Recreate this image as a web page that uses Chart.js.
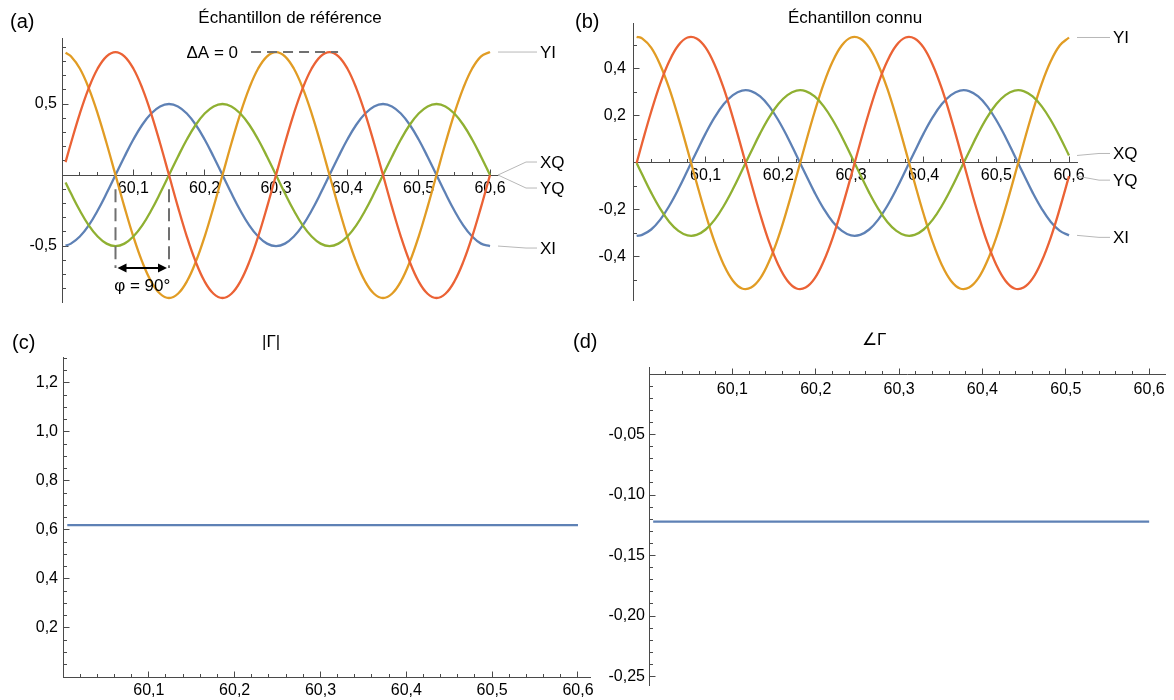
<!DOCTYPE html>
<html>
<head>
<meta charset="utf-8">
<script src="https://cdn.jsdelivr.net/npm/chart.js@4.4.1/dist/chart.umd.min.js"></script>
<style>
html,body{margin:0;padding:0;background:#fff;}
#wrap{position:relative;width:1174px;height:700px;overflow:hidden;background:#fff;font-family:'Liberation Sans',Arial,Helvetica,sans-serif;color:#000;}
canvas{position:absolute;}
.t{position:absolute;line-height:1;white-space:nowrap;}
</style>
</head>
<body>
<div id="wrap">
  <canvas id="ca" width="580" height="320" style="left:0;top:0;width:580px;height:320px"></canvas>
  <canvas id="cb" width="594" height="320" style="left:580px;top:0;width:594px;height:320px"></canvas>
  <canvas id="cc" width="600" height="380" style="left:0;top:320px;width:600px;height:380px"></canvas>
  <canvas id="cd" width="594" height="380" style="left:580px;top:320px;width:594px;height:380px"></canvas>

  <div class="t" style="left:10px;top:10.6px;font-size:20px">(a)</div>
  <div class="t" style="left:290px;top:8.6px;font-size:17px;transform:translateX(-50%)">Échantillon de référence</div>
  <div class="t" style="left:575px;top:10.6px;font-size:20px">(b)</div>
  <div class="t" style="left:855px;top:8.6px;font-size:17px;transform:translateX(-50%)">Échantillon connu</div>
  <div class="t" style="left:12px;top:332px;font-size:20px">(c)</div>
  <div class="t" style="left:262px;top:332.6px;font-size:17px">|Γ|</div>
  <div class="t" style="left:573px;top:331px;font-size:20px">(d)</div>
  <div class="t" style="left:862px;top:330.6px;font-size:17px">∠Γ</div>
</div>
<script>
// ---------------- data ----------------
const xVals = [60.005, 60.0125, 60.025, 60.0375, 60.05, 60.0625, 60.075, 60.0875, 60.1, 60.1125,
  60.125, 60.1375, 60.15, 60.1625, 60.175, 60.1875, 60.2, 60.2125, 60.225, 60.2375,
  60.25, 60.2625, 60.275, 60.2875, 60.3, 60.3125, 60.325, 60.3375, 60.35, 60.3625,
  60.375, 60.3875, 60.4, 60.4125, 60.425, 60.4375, 60.45, 60.4625, 60.475, 60.4875,
  60.5, 60.5125, 60.525, 60.5375, 60.55, 60.5625, 60.575, 60.5875, 60.6];

// (a) reference sample
const refYI = [0.861, 0.836, 0.750, 0.612, 0.433, 0.224, 0, -0.224, -0.433, -0.612, -0.750, -0.836, -0.866,
  -0.836, -0.750, -0.612, -0.433, -0.224, 0, 0.224, 0.433, 0.612, 0.750, 0.836, 0.866,
  0.836, 0.750, 0.612, 0.433, 0.224, 0, -0.224, -0.433, -0.612, -0.750, -0.836, -0.866,
  -0.836, -0.750, -0.612, -0.433, -0.224, 0, 0.224, 0.433, 0.612, 0.750, 0.836, 0.866];
const refYQ = [0.091, 0.224, 0.433, 0.612, 0.750, 0.836, 0.866, 0.836, 0.750, 0.612, 0.433, 0.224, 0,
  -0.224, -0.433, -0.612, -0.750, -0.836, -0.866, -0.836, -0.750, -0.612, -0.433, -0.224, 0,
  0.224, 0.433, 0.612, 0.750, 0.836, 0.866, 0.836, 0.750, 0.612, 0.433, 0.224, 0,
  -0.224, -0.433, -0.612, -0.750, -0.836, -0.866, -0.836, -0.750, -0.612, -0.433, -0.224, 0];
const refXI = [-0.497, -0.483, -0.433, -0.354, -0.250, -0.129, 0, 0.129, 0.250, 0.354, 0.433, 0.483, 0.500,
  0.483, 0.433, 0.354, 0.250, 0.129, 0, -0.129, -0.250, -0.354, -0.433, -0.483, -0.500,
  -0.483, -0.433, -0.354, -0.250, -0.129, 0, 0.129, 0.250, 0.354, 0.433, 0.483, 0.500,
  0.483, 0.433, 0.354, 0.250, 0.129, 0, -0.129, -0.250, -0.354, -0.433, -0.483, -0.500];
const refXQ = [-0.052, -0.129, -0.250, -0.354, -0.433, -0.483, -0.500, -0.483, -0.433, -0.354, -0.250, -0.129, 0,
  0.129, 0.250, 0.354, 0.433, 0.483, 0.500, 0.483, 0.433, 0.354, 0.250, 0.129, 0,
  -0.129, -0.250, -0.354, -0.433, -0.483, -0.500, -0.483, -0.433, -0.354, -0.250, -0.129, 0,
  0.129, 0.250, 0.354, 0.433, 0.483, 0.500, 0.483, 0.433, 0.354, 0.250, 0.129, 0];

// (b) known sample
const knownYI = [0.537, 0.530, 0.491, 0.417, 0.316, 0.192, 0.056, -0.084, -0.218, -0.338, -0.434, -0.501, -0.534,
  -0.530, -0.491, -0.417, -0.316, -0.192, -0.056, 0.084, 0.218, 0.338, 0.434, 0.501, 0.534,
  0.530, 0.491, 0.417, 0.316, 0.192, 0.056, -0.084, -0.218, -0.338, -0.434, -0.501, -0.534,
  -0.530, -0.491, -0.417, -0.316, -0.192, -0.056, 0.084, 0.218, 0.338, 0.434, 0.501, 0.534];
const knownYQ = [0, 0.084, 0.218, 0.338, 0.434, 0.501, 0.534, 0.530, 0.491, 0.417, 0.316, 0.192, 0.056,
  -0.084, -0.218, -0.338, -0.434, -0.501, -0.534, -0.530, -0.491, -0.417, -0.316, -0.192, -0.056,
  0.084, 0.218, 0.338, 0.434, 0.501, 0.534, 0.530, 0.491, 0.417, 0.316, 0.192, 0.056,
  -0.084, -0.218, -0.338, -0.434, -0.501, -0.534, -0.530, -0.491, -0.417, -0.316, -0.192, -0.056];
const knownXI = [-0.310, -0.306, -0.283, -0.241, -0.182, -0.111, -0.032, 0.048, 0.126, 0.195, 0.251, 0.289, 0.308,
  0.306, 0.283, 0.241, 0.182, 0.111, 0.032, -0.048, -0.126, -0.195, -0.251, -0.289, -0.308,
  -0.306, -0.283, -0.241, -0.182, -0.111, -0.032, 0.048, 0.126, 0.195, 0.251, 0.289, 0.308,
  0.306, 0.283, 0.241, 0.182, 0.111, 0.032, -0.048, -0.126, -0.195, -0.251, -0.289, -0.308];
const knownXQ = [0, -0.048, -0.126, -0.195, -0.251, -0.289, -0.308, -0.306, -0.283, -0.241, -0.182, -0.111, -0.032,
  0.048, 0.126, 0.195, 0.251, 0.289, 0.308, 0.306, 0.283, 0.241, 0.182, 0.111, 0.032,
  -0.048, -0.126, -0.195, -0.251, -0.289, -0.308, -0.306, -0.283, -0.241, -0.182, -0.111, -0.032,
  0.048, 0.126, 0.195, 0.251, 0.289, 0.308, 0.306, 0.283, 0.241, 0.182, 0.111, 0.032];

// (c), (d) reflection coefficient
const gammaX = [60.005, 60.6];
const gammaMag = [0.62, 0.62];
const gammaArg = [-0.122, -0.122];

// tick labels
const xTickLabels = [60.1, 60.2, 60.3, 60.4, 60.5, 60.6];
const yTicksA = [-0.5, 0.5];
const yTicksB = [-0.4, -0.2, 0.2, 0.4];
const yTicksC = [0.2, 0.4, 0.6, 0.8, 1.0, 1.2];
const yTicksD = [-0.25, -0.2, -0.15, -0.1, -0.05];
const seriesNames = ['XI', 'YI', 'XQ', 'YQ'];

// annotations of panel (a)
const deltaANote = { text: 'ΔA = 0', y: 0.866, x0: 60.265, x1: 60.387 };
const phaseNote = { text: 'φ = 90°', x0: 60.075, x1: 60.15, yTop: -0.1, yArrow: -0.655, yText: -0.775 };

// ---------------- style ----------------
const FONT = "'Liberation Sans', Arial, Helvetica, sans-serif";
const AXIS = '#4a4a4a';
const COLORS = { XI: '#5E81B5', YI: '#E19C24', XQ: '#8FB032', YQ: '#EB6235' };
const comma = (v, d) => Number(v).toFixed(d).replace('.', ',');
const steps = (a, b, s) => { const out = []; const n = Math.round((b - a) / s); for (let i = 0; i <= n; i++) out.push(+(a + i * s).toFixed(4)); return out; };

const axesPlugin = {
  id: 'mmaAxes',
  beforeDatasetsDraw(chart, args, o) {
    const { ctx, chartArea, scales: { x, y } } = chart;
    const al = p => Math.round(p - 0.5) + 0.5;
    const xAxisY = al(y.getPixelForValue(0));
    const yAxisX = al(chartArea.left);
    ctx.save();
    ctx.strokeStyle = AXIS; ctx.lineWidth = 1;
    ctx.beginPath();
    o.xMinor.forEach(v => { const p = al(x.getPixelForValue(v)); ctx.moveTo(p, xAxisY); ctx.lineTo(p, xAxisY - 3.5); });
    o.xMajor.forEach(v => { const p = al(x.getPixelForValue(v)); ctx.moveTo(p, xAxisY); ctx.lineTo(p, xAxisY - 6); });
    o.yMinor.filter(v => v >= y.min - 1e-9 && v <= y.max + 1e-9).forEach(v => { const p = al(y.getPixelForValue(v)); ctx.moveTo(yAxisX, p); ctx.lineTo(yAxisX + 3.5, p); });
    o.yMajor.forEach(v => { const p = al(y.getPixelForValue(v)); ctx.moveTo(yAxisX, p); ctx.lineTo(yAxisX + 6, p); });
    ctx.stroke();
    ctx.restore();
  }
};

const notesPlugin = {
  id: 'mmaNotes',
  afterDatasetsDraw(chart, args, o) {
    const { ctx, scales: { x, y } } = chart;
    ctx.save();
    ctx.font = '17px ' + FONT;
    if (o.endLabels) {
      chart.data.datasets.forEach((d, i) => {
        const last = d.data[d.data.length - 1];
        const px = x.getPixelForValue(last.x), py = y.getPixelForValue(last.y);
        const lx = px + o.endLabels.dx, ly = py + o.endLabels.dy[i];
        ctx.strokeStyle = '#b8b8b8'; ctx.lineWidth = 1;
        ctx.beginPath(); ctx.moveTo(px + 8, py); ctx.lineTo(lx - 14, ly); ctx.lineTo(lx - 3, ly); ctx.stroke();
        ctx.fillStyle = '#000'; ctx.textAlign = 'left'; ctx.textBaseline = 'middle';
        ctx.fillText(d.label, lx, ly + 1);
      });
    }
    if (o.deltaA) {
      const n = o.deltaA;
      const py = y.getPixelForValue(n.y), p0 = x.getPixelForValue(n.x0), p1 = x.getPixelForValue(n.x1);
      ctx.strokeStyle = '#707070'; ctx.lineWidth = 2; ctx.setLineDash([10, 6]);
      ctx.beginPath(); ctx.moveTo(p0, py); ctx.lineTo(p1, py); ctx.stroke();
      ctx.setLineDash([]);
      ctx.fillStyle = '#000'; ctx.textAlign = 'right'; ctx.textBaseline = 'middle';
      ctx.fillText(n.text, p0 - 13, py + 1);
    }
    if (o.phase) {
      const n = o.phase;
      const p0 = x.getPixelForValue(n.x0), p1 = x.getPixelForValue(n.x1);
      const yt = y.getPixelForValue(n.yTop), ya = y.getPixelForValue(n.yArrow);
      ctx.strokeStyle = '#707070'; ctx.lineWidth = 2; ctx.setLineDash([13, 6]);
      ctx.beginPath();
      ctx.moveTo(p0, yt); ctx.lineTo(p0, ya);
      ctx.moveTo(p1, yt); ctx.lineTo(p1, ya);
      ctx.stroke();
      ctx.setLineDash([]);
      const a0 = p0 + 2, a1 = p1 - 2, hl = 9, hw = 4.5;
      ctx.strokeStyle = '#000'; ctx.fillStyle = '#000'; ctx.lineWidth = 2;
      ctx.beginPath(); ctx.moveTo(a0 + hl - 1, ya); ctx.lineTo(a1 - hl + 1, ya); ctx.stroke();
      ctx.beginPath(); ctx.moveTo(a0, ya); ctx.lineTo(a0 + hl, ya - hw); ctx.lineTo(a0 + hl, ya + hw); ctx.closePath(); ctx.fill();
      ctx.beginPath(); ctx.moveTo(a1, ya); ctx.lineTo(a1 - hl, ya - hw); ctx.lineTo(a1 - hl, ya + hw); ctx.closePath(); ctx.fill();
      ctx.textAlign = 'center'; ctx.textBaseline = 'middle';
      ctx.fillText(n.text, (p0 + p1) / 2, y.getPixelForValue(n.yText) + 1);
    }
    ctx.restore();
  }
};

function ds(name, xs, ys, order, color, tension) {
  return {
    label: name,
    data: xs.map((xv, i) => ({ x: xv, y: ys[i] })),
    borderColor: color || COLORS[name],
    borderWidth: 2.3,
    pointRadius: 0,
    tension: tension === undefined ? 0.4 : tension,
    fill: false,
    order: order
  };
}

function makePanel(id, c) {
  return new Chart(document.getElementById(id), {
    type: 'line',
    data: { datasets: c.datasets },
    options: {
      responsive: false,
      animation: false,
      devicePixelRatio: 1,
      layout: { padding: c.padding },
      plugins: {
        legend: { display: false },
        tooltip: { enabled: false },
        mmaAxes: c.ticks,
        mmaNotes: c.notes || {}
      },
      scales: {
        x: {
          type: 'linear', bounds: 'data', min: c.xMin, max: c.xMax, position: { y: 0 },
          afterFit: s => { s.height = 0; },
          afterBuildTicks: s => { s.ticks = xTickLabels.map(v => ({ value: v })); },
          ticks: { callback: v => comma(v, 1), color: '#000', font: { family: FONT, size: 16 }, padding: c.xPad, maxRotation: 0, minRotation: 0, autoSkip: false },
          grid: { display: true, drawOnChartArea: false, drawTicks: false, color: 'rgba(0,0,0,0)' },
          border: { display: true, color: AXIS, width: 1 }
        },
        y: {
          type: 'linear', bounds: 'data', min: c.yMin, max: c.yMax, position: 'left',
          afterFit: s => { s.width = c.yWidth; },
          afterBuildTicks: s => { s.ticks = c.yLabels.map(v => ({ value: v })); },
          ticks: { callback: v => comma(v, c.yDec), color: '#000', font: { family: FONT, size: 16 }, padding: c.yPad, autoSkip: false },
          grid: { display: true, drawOnChartArea: false, drawTicks: false, color: 'rgba(0,0,0,0)' },
          border: { display: true, color: AXIS, width: 1 }
        }
      }
    },
    plugins: [axesPlugin, notesPlugin]
  });
}

// (a)
makePanel('ca', {
  datasets: [ds('XI', xVals, refXI, 4), ds('YI', xVals, refYI, 3), ds('XQ', xVals, refXQ, 2), ds('YQ', xVals, refYQ, 1)],
  padding: { left: 0, top: 38, right: 82, bottom: 18 },
  yWidth: 62, xMin: 60, xMax: 60.6112, yMin: -0.894, yMax: 0.9648,
  xPad: 4, yPad: 5, yLabels: yTicksA, yDec: 1,
  ticks: { xMinor: steps(60.025, 60.6, 0.025), xMajor: xTickLabels, yMinor: steps(-0.8, 0.9, 0.1), yMajor: yTicksA },
  notes: { endLabels: { dx: 50, dy: [2, 0, -13, 13] }, deltaA: deltaANote, phase: phaseNote }
});

// (b)
makePanel('cb', {
  datasets: [ds('XI', xVals, knownXI, 4), ds('YI', xVals, knownYI, 3), ds('XQ', xVals, knownXQ, 2), ds('YQ', xVals, knownYQ, 1)],
  padding: { left: 0, top: 23, right: 97, bottom: 20 },
  yWidth: 53, xMin: 60, xMax: 60.611, yMin: -0.583, yMax: 0.5957,
  xPad: 3, yPad: 7, yLabels: yTicksB, yDec: 1,
  ticks: { xMinor: steps(60.025, 60.6, 0.025), xMajor: xTickLabels, yMinor: steps(-0.5, 0.6, 0.1), yMajor: yTicksB },
  notes: { endLabels: { dx: 44, dy: [2, 0, -2, 4] } }
});

// (c)
makePanel('cc', {
  datasets: [ds('|Γ|', gammaX, gammaMag, 1, COLORS.XI, 0)],
  padding: { left: 0, top: 37, right: 10, bottom: 23 },
  yWidth: 63, xMin: 60, xMax: 60.614, yMin: 0, yMax: 1.306,
  xPad: 3.5, yPad: 5, yLabels: yTicksC, yDec: 1,
  ticks: { xMinor: steps(60.02, 60.6, 0.02), xMajor: xTickLabels, yMinor: steps(0.05, 1.3, 0.05), yMajor: yTicksC }
});

// (d)
makePanel('cd', {
  datasets: [ds('∠Γ', gammaX, gammaArg, 1, COLORS.XI, 0)],
  padding: { left: 0, top: 47, right: 9, bottom: 15 },
  yWidth: 69, xMin: 60, xMax: 60.619, yMin: -0.257, yMax: 0.0058,
  xPad: 6, yPad: 4, yLabels: yTicksD, yDec: 2,
  ticks: { xMinor: steps(60.02, 60.6, 0.02), xMajor: xTickLabels, yMinor: steps(-0.25, -0.01, 0.01), yMajor: yTicksD }
});
</script>
</body>
</html>
